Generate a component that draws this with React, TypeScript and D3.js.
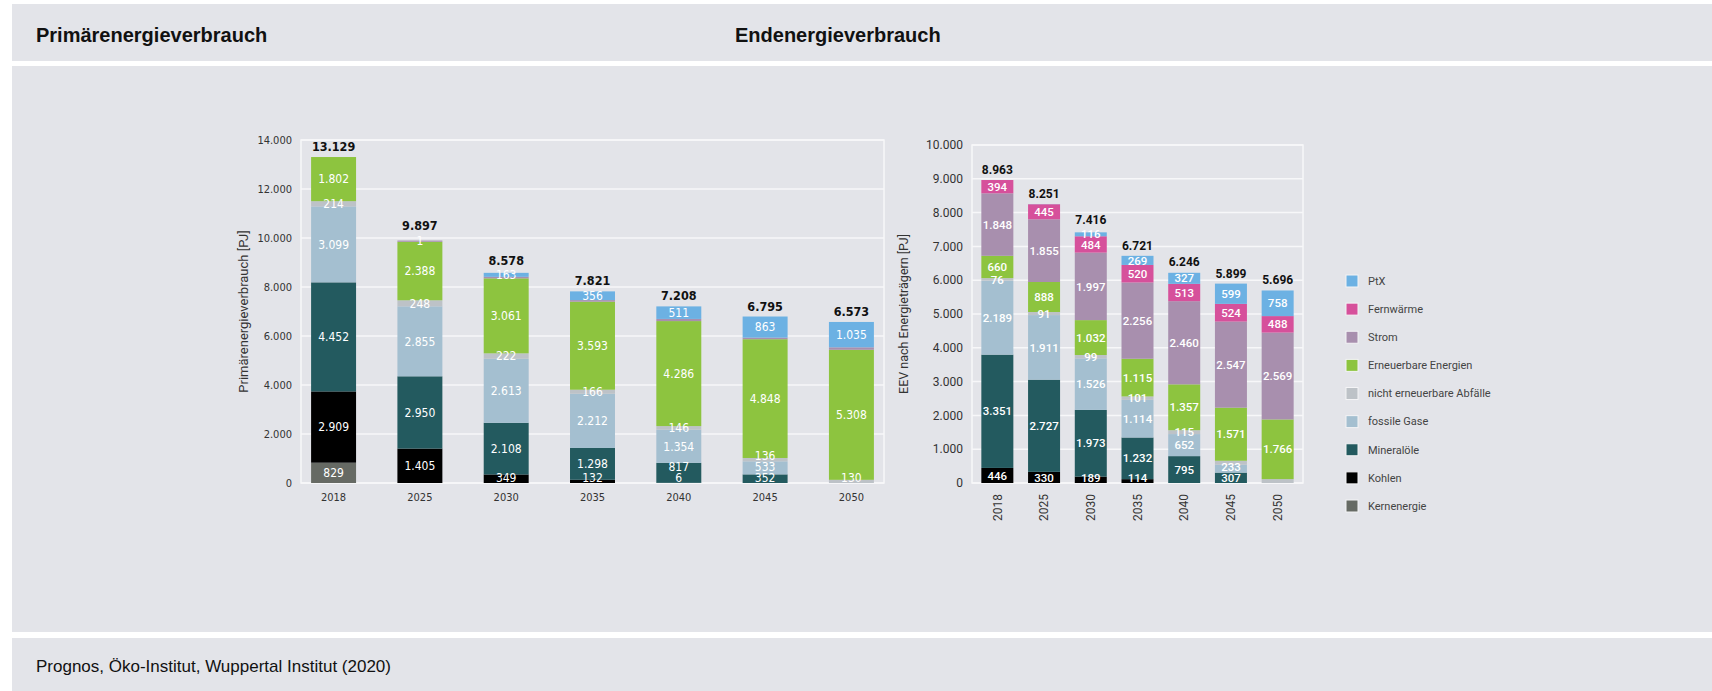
import React from 'react';
import * as d3 from 'd3';

// shared categories
const years = ['2018', '2025', '2030', '2035', '2040', '2045', '2050'];

// Primärenergieverbrauch [PJ]
const pevKernenergie = [829, 0, 0, 0, 0, 0, 0];
const pevKohlen = [2909, 1405, 349, 132, 6, 0, 0];
const pevMineraloele = [4452, 2950, 2108, 1298, 817, 352, 0];
const pevFossileGase = [3099, 2855, 2613, 2212, 1354, 533, 0];
const pevAbfaelle = [214, 248, 222, 166, 146, 136, 130];
const pevErneuerbare = [1802, 2388, 3061, 3593, 4286, 4848, 5308];
const pevStrom = [0, 50, 62, 64, 88, 63, 100];
const pevPtX = [0, 1, 163, 356, 511, 863, 1035];
const pevTotals = [13129, 9897, 8578, 7821, 7208, 6795, 6573];
const pevTicks = [0, 2000, 4000, 6000, 8000, 10000, 12000, 14000];

// Endenergieverbrauch nach Energieträgern [PJ]
const eevKohlen = [446, 330, 189, 114, 0, 0, 0];
const eevMineraloele = [3351, 2727, 1973, 1232, 795, 307, 0];
const eevFossileGase = [2189, 1911, 1526, 1114, 652, 233, 0];
const eevAbfaelle = [76, 91, 99, 101, 115, 118, 115];
const eevErneuerbare = [660, 888, 1032, 1115, 1357, 1571, 1766];
const eevStrom = [1848, 1855, 1997, 2256, 2460, 2547, 2569];
const eevFernwaerme = [394, 445, 484, 520, 513, 524, 488];
const eevPtX = [0, 4, 116, 269, 327, 599, 758];
const eevTotals = [8963, 8251, 7416, 6721, 6246, 5899, 5696];
const eevTicks = [0, 1000, 2000, 3000, 4000, 5000, 6000, 7000, 8000, 9000, 10000];

// segments drawn without a value label
const pevUnlabeled = [['Strom', '*']];
const eevUnlabeled = [['PtX', '2025'], ['nicht erneuerbare Abfälle', '2045'], ['nicht erneuerbare Abfälle', '2050']];

const legendOrder = ['PtX', 'Fernwärme', 'Strom', 'Erneuerbare Energien', 'nicht erneuerbare Abfälle', 'fossile Gase', 'Mineralöle', 'Kohlen', 'Kernenergie'];

const colors: Record<string, string> = {
  'PtX': '#6cb1e3',
  'Fernwärme': '#d6509b',
  'Strom': '#a88fae',
  'Erneuerbare Energien': '#8dc43f',
  'nicht erneuerbare Abfälle': '#bdc2c7',
  'fossile Gase': '#a4bfd0',
  'Mineralöle': '#235a5f',
  'Kohlen': '#000000',
  'Kernenergie': '#666a64',
};

const de = d3.formatLocale({ decimal: ',', thousands: '.', grouping: [3], currency: ['', ' €'] });
const fmt = de.format(',d');

const PANEL = '#e3e4e9';
const NARROW = "'Liberation Sans Narrow', 'DejaVu Sans Condensed', sans-serif";
const ROBOTO = "Roboto, 'Noto Sans', sans-serif";

type Series = { name: string; values: number[] };

type ChartProps = {
  series: Series[];
  totals: number[];
  ticks: number[];
  unlabeled: string[][];
  box: { left: number; right: number; top: number; bottom: number };
  padInner: number;
  padOuter: number;
  font: string;
  tickSize: number;
  labelSize: number;
  labelWeight: number;
  totalSize: number;
  yTitle: string;
  yTitleX: number;
  yTitleSize: number;
  rotateX: boolean;
};

function StackedChart(p: ChartProps) {
  const { box } = p;
  const rows = years.map((y, i) => {
    const r: any = { year: y };
    p.series.forEach(s => (r[s.name] = s.values[i]));
    return r;
  });
  const keys = p.series.map(s => s.name);
  const stacked = d3.stack().keys(keys)(rows);

  const x = d3.scaleBand().domain(years).range([box.left, box.right]).paddingInner(p.padInner).paddingOuter(p.padOuter);
  const y = d3.scaleLinear().domain([0, p.ticks[p.ticks.length - 1]]).range([box.bottom, box.top]);

  const hidden = (name: string, year: string) =>
    p.unlabeled.some(([n, yy]) => n === name && (yy === '*' || yy === year));

  // label positions per bar, bottom to top, pushed up so small segments don't collide
  const gap = p.labelSize * 0.95;
  const labels: { key: string; i: number; v: number; y: number }[] = [];
  const topLabel: number[] = years.map(() => Infinity);
  years.forEach((yr, i) => {
    let prev = Infinity;
    stacked.forEach(layer => {
      const d = layer[i];
      const v = d[1] - d[0];
      if (v <= 0 || hidden(layer.key, yr)) return;
      let cy = Math.min(y((d[0] + d[1]) / 2), box.bottom - 5);
      cy = Math.min(cy, prev - gap);
      prev = cy;
      labels.push({ key: layer.key, i, v, y: cy });
    });
    topLabel[i] = prev;
  });

  return (
    <g>
      {/* frame + gridlines */}
      <rect x={box.left} y={box.top} width={box.right - box.left} height={box.bottom - box.top} fill="none" stroke="#f7f7f9" strokeWidth={1.5} />
      {p.ticks.map(t => (
        <g key={t}>
          <line x1={box.left} x2={box.right} y1={y(t)} y2={y(t)} stroke="#f7f7f9" strokeWidth={1.5} />
          <text x={box.left - 9} y={y(t)} dy="0.35em" textAnchor="end" fontFamily={p.font} fontSize={p.tickSize} fill="#333">
            {fmt(t)}
          </text>
        </g>
      ))}
      <text
        transform={`translate(${p.yTitleX},${(box.top + box.bottom) / 2}) rotate(-90)`}
        textAnchor="middle"
        dy="0.35em"
        fontFamily={ROBOTO}
        fontSize={p.yTitleSize}
        fill="#333"
      >
        {p.yTitle}
      </text>

      {/* bars */}
      {stacked.map(layer => (
        <g key={layer.key} fill={colors[layer.key]}>
          {layer.map((d, i) => {
            const v = d[1] - d[0];
            if (v <= 0) return null;
            return <rect key={i} x={x(years[i])} y={y(d[1])} width={x.bandwidth()} height={y(d[0]) - y(d[1])} />;
          })}
        </g>
      ))}

      {/* segment labels */}
      {labels.map(l => (
        <text
          key={l.key + l.i}
          x={(x(years[l.i]) as number) + x.bandwidth() / 2}
          y={l.y}
          dy="0.36em"
          textAnchor="middle"
          fontFamily={p.font}
          fontSize={p.labelSize}
          fontWeight={p.labelWeight}
          fill="#ffffff"
        >
          {fmt(l.v)}
        </text>
      ))}

      {/* totals */}
      {p.totals.map((t, i) => {
        const top = stacked[stacked.length - 1][i][1];
        const ty = Math.min(Math.min(y(t), y(top)) - 6, topLabel[i] - p.labelSize * 0.85);
        return (
          <text
            key={years[i]}
            x={(x(years[i]) as number) + x.bandwidth() / 2}
            y={ty}
            textAnchor="middle"
            fontFamily={p.font}
            fontSize={p.totalSize}
            fontWeight={700}
            fill="#111"
          >
            {fmt(t)}
          </text>
        );
      })}

      {/* x labels */}
      {years.map(yr => {
        const cx = (x(yr) as number) + x.bandwidth() / 2;
        return p.rotateX ? (
          <text key={yr} transform={`translate(${cx},${box.bottom + 11}) rotate(-90)`} dy="0.35em" textAnchor="end" fontFamily={p.font} fontSize={12} fill="#333">
            {yr}
          </text>
        ) : (
          <text key={yr} x={cx} y={box.bottom + 18} textAnchor="middle" fontFamily={p.font} fontSize={11} fill="#333">
            {yr}
          </text>
        );
      })}
    </g>
  );
}

export default function App() {
  const pevSeries: Series[] = [
    { name: 'Kernenergie', values: pevKernenergie },
    { name: 'Kohlen', values: pevKohlen },
    { name: 'Mineralöle', values: pevMineraloele },
    { name: 'fossile Gase', values: pevFossileGase },
    { name: 'nicht erneuerbare Abfälle', values: pevAbfaelle },
    { name: 'Erneuerbare Energien', values: pevErneuerbare },
    { name: 'Strom', values: pevStrom },
    { name: 'PtX', values: pevPtX },
  ];
  const eevSeries: Series[] = [
    { name: 'Kohlen', values: eevKohlen },
    { name: 'Mineralöle', values: eevMineraloele },
    { name: 'fossile Gase', values: eevFossileGase },
    { name: 'nicht erneuerbare Abfälle', values: eevAbfaelle },
    { name: 'Erneuerbare Energien', values: eevErneuerbare },
    { name: 'Strom', values: eevStrom },
    { name: 'Fernwärme', values: eevFernwaerme },
    { name: 'PtX', values: eevPtX },
  ];

  const legendY = d3.scalePoint().domain(legendOrder).range([281, 506]);

  return (
    <svg width={1712} height={691} style={{ position: 'absolute', left: 0, top: 0 }}>
      <rect width={1712} height={691} fill="#ffffff" />
      <rect x={12} y={4} width={1700} height={57} fill={PANEL} />
      <rect x={12} y={66} width={1700} height={566} fill={PANEL} />
      <rect x={12} y={638} width={1700} height={53} fill={PANEL} />

      <text x={36} y={42} fontFamily="'Liberation Sans', Arial, sans-serif" fontWeight={700} fontSize={20} fill="#111">
        Primärenergieverbrauch
      </text>
      <text x={735} y={42} fontFamily="'Liberation Sans', Arial, sans-serif" fontWeight={700} fontSize={20} fill="#111">
        Endenergieverbrauch
      </text>
      <text x={36} y={672} fontFamily="'Liberation Sans', Arial, sans-serif" fontSize={17} fill="#111">
        Prognos, Öko-Institut, Wuppertal Institut (2020)
      </text>

      <StackedChart
        series={pevSeries}
        totals={pevTotals}
        ticks={pevTicks}
        unlabeled={pevUnlabeled}
        box={{ left: 301, right: 884, top: 140, bottom: 483 }}
        padInner={0.479}
        padOuter={0.117}
        font={NARROW}
        tickSize={11}
        labelSize={12}
        labelWeight={400}
        totalSize={12.5}
        yTitle="Primärenergieverbrauch [PJ]"
        yTitleX={243}
        yTitleSize={13}
        rotateX={false}
      />
      <StackedChart
        series={eevSeries}
        totals={eevTotals}
        ticks={eevTicks}
        unlabeled={eevUnlabeled}
        box={{ left: 972, right: 1303, top: 145, bottom: 483 }}
        padInner={0.315}
        padOuter={0.2}
        font={ROBOTO}
        tickSize={12}
        labelSize={11.5}
        labelWeight={500}
        totalSize={12}
        yTitle="EEV nach Energieträgern [PJ]"
        yTitleX={904}
        yTitleSize={12.5}
        rotateX={true}
      />

      {/* legend */}
      {legendOrder.map(name => (
        <g key={name} transform={`translate(1346,${legendY(name)})`}>
          <rect x={0} y={-6} width={12} height={12} fill={colors[name]} stroke="#f4f4f6" strokeWidth={1} />
          <text x={22} y={0} dy="0.35em" fontFamily={ROBOTO} fontSize={11} fill="#444">
            {name}
          </text>
        </g>
      ))}
    </svg>
  );
}
